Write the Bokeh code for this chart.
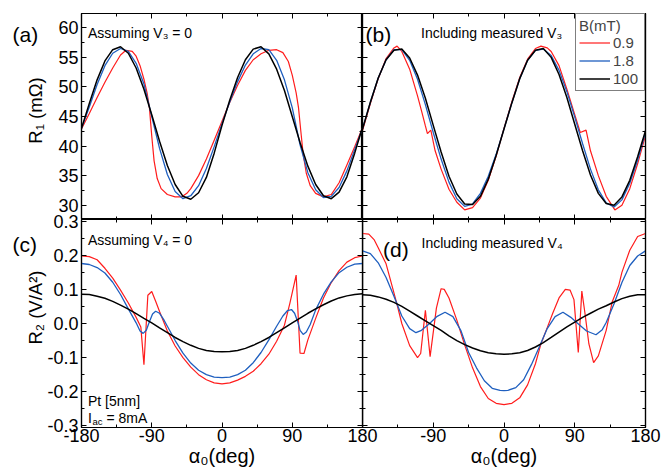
import math
from bokeh.plotting import figure
from bokeh.models import (LinearAxis, FixedTicker, PrintfTickFormatter, Label,
                          Legend, LegendItem, Range1d)
from bokeh.layouts import row, column
from bokeh.embed import file_html
from bokeh.resources import INLINE

FONT = "Liberation Sans"
RED, BLUE, BLACK = "#ff1c1c", "#1f5fbf", "#000000"

# ---------------- data ----------------
ALPHA = [-180, -170, -160, -150, -140, -130, -120, -110, -100, -90, -80, -70, -60,
         -50, -40, -30, -20, -10, 0, 10, 20, 30, 40, 50, 60, 70, 80, 90, 100, 110,
         120, 130, 140, 150, 160, 170, 180]

# (a) R1, assuming V3 = 0
a_black = [43.0, 47.2, 51.2, 54.4, 56.3, 56.8, 55.7, 53.2, 49.6, 45.3, 40.8, 36.7, 33.5,
           31.5, 31.0, 32.1, 34.7, 38.8, 43.5, 47.8, 51.6, 54.6, 56.4, 56.8, 55.6, 53.0,
           49.4, 45.0, 40.6, 36.6, 33.5, 31.6, 31.1, 32.2, 34.8, 38.8, 43.2]
a_blue = [43.0, 46.6, 50.4, 53.6, 55.7, 56.5, 56.0, 54.0, 50.5, 45.0, 39.6, 35.2, 32.3,
          31.1, 31.6, 33.3, 36.2, 39.9, 43.8, 47.5, 50.9, 53.7, 55.6, 56.5, 56.3, 54.5,
          51.2, 46.5, 40.2, 35.5, 32.6, 31.3, 31.5, 33.0, 35.8, 39.4, 43.0]
a_red_x = [-180, -170, -160, -150, -140, -130, -123, -115, -110, -105, -100, -96, -93,
           -90, -87, -83, -78, -70, -60, -52, -45, -40, -30, -20, -10, 0, 10, 20, 30, 40,
           50, 60, 70, 78, 85, 90, 95, 98, 101, 104, 108, 113, 120, 130, 140, 150, 160,
           170, 180]
a_red = [42.9, 45.5, 48.2, 50.8, 53.2, 55.4, 56.2, 56.0, 55.2, 53.6, 51.3, 49.0, 46.5,
         41.7, 37.5, 34.5, 32.8, 31.8, 31.4, 31.4, 32.0, 32.8, 35.0, 37.8, 41.0, 44.2,
         47.4, 50.3, 52.8, 54.6, 55.6, 56.2, 56.3, 55.8, 54.3, 52.0, 49.0, 46.5, 42.5,
         38.6, 35.4, 33.3, 32.0, 31.4, 31.8, 33.8, 36.8, 39.9, 43.1]

# (b) R1, including measured V3
b_black = [42.9, 47.4, 51.5, 54.6, 56.2, 56.4, 54.9, 52.0, 48.1, 43.5, 39.0, 34.9, 31.9,
           30.2, 30.1, 31.5, 34.4, 38.4, 42.9, 47.3, 51.4, 54.5, 56.2, 56.5, 55.0, 52.1,
           48.2, 43.7, 39.2, 35.1, 32.0, 30.3, 30.0, 31.4, 34.2, 38.2, 42.6]
b_blue = [42.9, 47.4, 51.5, 54.6, 56.3, 56.3, 54.5, 51.3, 47.0, 42.3, 37.8, 33.9, 31.1,
          29.8, 30.2, 32.0, 34.9, 38.6, 42.9, 47.3, 51.4, 54.5, 56.2, 56.4, 55.3, 52.8,
          49.2, 44.9, 40.4, 36.1, 32.6, 30.4, 29.7, 30.9, 33.7, 37.6, 42.3]
b_red_x = [-180, -170, -160, -150, -140, -136, -130, -120, -110, -105, -100, -97.4, -93.1,
           -87.6, -80, -70, -60, -50, -40, -30, -20, -10, 0, 10, 20, 30, 40, 47, 55, 60,
           70, 80, 90, 97, 104.4, 110, 120, 130, 141, 150, 160, 170, 180]
b_red = [42.6, 47.2, 51.4, 54.8, 56.6, 56.9, 56.0, 53.0, 48.5, 46.0, 43.4, 42.1, 42.7,
         39.2, 36.1, 32.7, 30.5, 29.2, 29.6, 31.2, 34.2, 38.3, 43.0, 47.5, 51.6, 54.7,
         56.5, 56.9, 56.6, 56.0, 53.6, 49.6, 45.3, 42.3, 42.7, 39.2, 35.0, 31.5, 29.2,
         30.0, 32.8, 37.0, 41.8]

# (c) R2, assuming V4 = 0
c_black = [0.086, 0.085, 0.080, 0.074, 0.065, 0.054, 0.042, 0.029, 0.015, 0.002, -0.013,
           -0.027, -0.041, -0.053, -0.064, -0.073, -0.079, -0.082, -0.083, -0.082, -0.079,
           -0.073, -0.064, -0.053, -0.041, -0.027, -0.013, 0.002, 0.016, 0.030, 0.043,
           0.055, 0.066, 0.075, 0.081, 0.085, 0.087]
c_blue_x = [-180, -170, -160, -150, -140, -130, -120, -110, -105, -101, -97, -93, -89, -85,
            -80, -75, -70, -60, -50, -40, -30, -20, -10, 0, 10, 20, 30, 40, 50, 60, 70, 78,
            84, 89, 93, 97, 100, 104, 108, 113, 120, 130, 140, 150, 160, 170, 180]
c_blue = [0.176, 0.173, 0.164, 0.148, 0.121, 0.085, 0.043, 0.002, -0.022, -0.029, -0.020,
          0.005, 0.028, 0.036, 0.030, 0.013, -0.008, -0.050, -0.087, -0.116, -0.137, -0.150,
          -0.157, -0.159, -0.157, -0.150, -0.137, -0.115, -0.085, -0.048, -0.008, 0.022,
          0.038, 0.041, 0.030, 0.005, -0.020, -0.032, -0.025, -0.003, 0.040, 0.086, 0.122,
          0.149, 0.165, 0.174, 0.176]
c_red_x = [-180, -170, -160, -150, -140, -130, -120, -110, -104, -100, -95, -90, -85, -80,
           -70, -60, -50, -40, -30, -20, -10, 0, 10, 20, 30, 40, 50, 60, 70, 80, 87, 95, 100,
           105, 110, 120, 130, 140, 150, 160, 170, 180]
c_red = [0.198, 0.196, 0.187, 0.162, 0.133, 0.098, 0.060, 0.018, -0.010, -0.121, 0.083,
         0.094, 0.065, 0.035, -0.022, -0.066, -0.100, -0.128, -0.150, -0.165, -0.174, -0.177,
         -0.174, -0.166, -0.155, -0.140, -0.118, -0.090, -0.052, -0.005, 0.060, 0.142,
         -0.087, -0.088, -0.048, 0.015, 0.075, 0.120, 0.155, 0.180, 0.193, 0.198]

# (d) R2, including measured V4
d_black = [0.084, 0.083, 0.078, 0.071, 0.062, 0.050, 0.036, 0.022, 0.008, -0.006, -0.020,
           -0.036, -0.050, -0.062, -0.072, -0.080, -0.086, -0.089, -0.090, -0.089, -0.086,
           -0.079, -0.069, -0.056, -0.041, -0.025, -0.010, 0.004, 0.018, 0.030, 0.042,
           0.052, 0.063, 0.073, 0.080, 0.084, 0.084]
d_blue_x = [-180, -170, -160, -150, -140, -130, -120, -112, -105, -95, -85, -75, -65, -55,
            -45, -35, -25, -15, -5, 0, 5, 15, 25, 35, 45, 55, 65, 75, 85, 95, 105, 117, 125,
            130, 140, 150, 160, 170, 180]
d_blue = [0.213, 0.205, 0.178, 0.135, 0.080, 0.022, -0.015, -0.027, -0.020, -0.001, 0.021,
          0.033, 0.020, -0.020, -0.085, -0.130, -0.168, -0.190, -0.196, -0.197, -0.196,
          -0.188, -0.165, -0.120, -0.068, -0.015, 0.020, 0.033, 0.018, -0.002, -0.022,
          -0.033, -0.018, 0.003, 0.058, 0.120, 0.170, 0.198, 0.213]
d_red_x = [-180, -172, -165, -160, -150, -140, -137, -130, -120, -110, -106, -100, -94, -86,
           -80, -76, -70, -60, -51, -40, -30, -20, -10, 0, 10, 20, 30, 40, 47, 55, 62, 70,
           78, 84, 89, 94.5, 99, 103, 108, 114, 120, 130, 137.6, 146, 150, 160, 170, 180]
d_red = [0.264, 0.262, 0.245, 0.222, 0.175, 0.090, 0.064, 0.000, -0.065, -0.100, -0.088,
         0.039, -0.097, 0.045, 0.102, 0.100, 0.075, 0.010, -0.056, -0.130, -0.185, -0.220,
         -0.234, -0.238, -0.234, -0.218, -0.180, -0.118, -0.060, -0.012, 0.030, 0.075,
         0.100, 0.098, 0.070, -0.085, 0.095, 0.030, -0.060, -0.115, -0.095, -0.020, 0.063,
         0.112, 0.150, 0.215, 0.255, 0.264]

FIELDS = ["0.9", "1.8", "100"]  # B (mT)

X_TICKS = [-180, -90, 0, 90, 180]
X_TICKS_D = [-90, 0, 90, 180]
X_MINOR = [-135, -45, 45, 135]
R1_RANGE = (27.58, 62.42)
R1_TICKS = [30, 35, 40, 45, 50, 55, 60]
R1_MINOR = [32.5, 37.5, 42.5, 47.5, 52.5, 57.5]
R2_RANGE = (-0.305, 0.305)
R2_TICKS = [-0.3, -0.2, -0.1, 0.0, 0.1, 0.2, 0.3]
R2_MINOR = [-0.25, -0.15, -0.05, 0.05, 0.15, 0.25]

# ---------------- helpers ----------------

def make_fig(yr, fw, fh, left, right, top, bottom):
    p = figure(frame_width=fw, frame_height=fh,
               x_range=Range1d(-180, 180), y_range=Range1d(*yr),
               x_axis_location=None, y_axis_location=None,
               min_border_left=left, min_border_right=right,
               min_border_top=top, min_border_bottom=bottom,
               output_backend="svg", toolbar_location=None,
               border_fill_color=None, background_fill_color=None,
               outline_line_color="black", outline_line_width=1.2)
    p.grid.visible = False
    return p


def add_axis(p, side, ticks, minor, fmt=None, labels=False, standoff=3, title=None):
    ax = LinearAxis(ticker=FixedTicker(ticks=ticks, minor_ticks=minor))
    if fmt:
        ax.formatter = PrintfTickFormatter(format=fmt)
    ax.major_tick_in = 5
    ax.major_tick_out = 0
    ax.minor_tick_in = 3
    ax.minor_tick_out = 0
    ax.axis_line_color = "black"
    ax.axis_line_width = 1.2
    ax.major_tick_line_color = "black"
    ax.minor_tick_line_color = "black"
    ax.major_tick_line_width = 1
    ax.minor_tick_line_width = 1
    if labels:
        ax.major_label_text_font = FONT
        ax.major_label_text_font_size = "18px"
        ax.major_label_text_color = "black"
        ax.major_label_standoff = standoff
    else:
        ax.major_label_text_font_size = "0px"
        ax.major_label_text_color = None
        ax.major_label_text_alpha = 0
        ax.major_label_standoff = 0
    if title:
        ax.axis_label = title
        ax.axis_label_text_font = FONT
        ax.axis_label_text_font_size = "20px"
        ax.axis_label_text_font_style = "normal"
        ax.axis_label_text_color = "black"
        ax.axis_label_standoff = 0
    p.add_layout(ax, side)
    return ax


def px2x(px, L, W):
    return -180 + (px - L) / W * 360.0


def py2y(py, top, bottom, yr):
    return yr[0] + (bottom - py) / (bottom - top) * (yr[1] - yr[0])


def add_text(p, x, y, text, size, align="left", baseline="alphabetic", angle=0.0):
    p.add_layout(Label(x=x, y=y, text=text, text_font=FONT, text_font_size=size,
                       text_align=align, text_baseline=baseline, angle=angle,
                       text_color="black"))

# page geometry of the frames (pixels)
STRIP = 81            # left strip (panel letters + y titles), overlapped by the panels' borders
LBORDER = 39          # visible left border of the left panels (tick labels)
LX, LW = 81, 281      # left column frame
RX, RW = 362, 283     # right column frame
TT, TB = 13, 219      # top row frame
BT, BB = 219, 427     # bottom row frame

# ---------------- left strip with panel letters and y titles ----------------
strip = figure(width=STRIP, height=472, x_range=Range1d(0, STRIP), y_range=Range1d(472, 0),
               x_axis_location=None, y_axis_location=None, min_border=0,
               output_backend="svg", toolbar_location=None, outline_line_color=None,
               border_fill_color=None, background_fill_color=None)
strip.grid.visible = False
add_text(strip, 12, 34, "(a)", "21px")
add_text(strip, 12, 244, "(c)", "21px")
add_text(strip, 35, 110, "R\u2081 (m\u03a9)", "18.5px", align="center", angle=math.pi / 2)
add_text(strip, 35, 307, "R\u2082 (V/A\u00b2)", "18.5px", align="center", angle=math.pi / 2)

# ---------------- panel (a) ----------------
pa = make_fig(R1_RANGE, LW, TB - TT, LBORDER, 0, TT, 0)
add_axis(pa, "below", X_TICKS, X_MINOR)
add_axis(pa, "above", X_TICKS, X_MINOR)
add_axis(pa, "left", R1_TICKS, R1_MINOR, fmt="%d", labels=True)
add_axis(pa, "right", R1_TICKS, R1_MINOR)
pa.line(a_red_x, a_red, color=RED, line_width=1.2)
pa.line(ALPHA, a_blue, color=BLUE, line_width=1.3)
pa.line(ALPHA, a_black, color=BLACK, line_width=1.5)
ay = lambda py: py2y(py, TT, TB, R1_RANGE)
ax_ = lambda px: px2x(px, LX, LW)
add_text(pa, ax_(87.5), ay(32.5), "Assuming V\u2083 = 0", "14px")
pa.margin = (0, 0, 0, LX - LBORDER - STRIP)

# ---------------- panel (b) ----------------
pb = make_fig(R1_RANGE, RW, TB - TT, 0, 16, TT, 0)
add_axis(pb, "below", X_TICKS, X_MINOR)
add_axis(pb, "above", X_TICKS, X_MINOR)
add_axis(pb, "left", R1_TICKS, R1_MINOR)
add_axis(pb, "right", R1_TICKS, R1_MINOR)
rb_red = pb.line(b_red_x, b_red, color=RED, line_width=1.2)
rb_blue = pb.line(ALPHA, b_blue, color=BLUE, line_width=1.3)
rb_black = pb.line(ALPHA, b_black, color=BLACK, line_width=1.5)
by = lambda py: py2y(py, TT, TB, R1_RANGE)
bx = lambda px: px2x(px, RX, RW)
add_text(pb, bx(365), by(34), "(b)", "21px")
add_text(pb, bx(420.5), by(32), "Including measured V\u2083", "14px")
legend = Legend(items=[LegendItem(label=FIELDS[0], renderers=[rb_red]),
                       LegendItem(label=FIELDS[1], renderers=[rb_blue]),
                       LegendItem(label=FIELDS[2], renderers=[rb_black])],
                location="top_right", margin=0, padding=3, spacing=1,
                title="B(mT)", title_text_font=FONT, title_text_font_size="15px",
                title_text_font_style="normal", title_standoff=0,
                label_text_font=FONT, label_text_font_size="15px",
                label_height=15, label_width=28, glyph_height=15, glyph_width=31,
                label_standoff=3, border_line_color="black", border_line_width=1,
                background_fill_color="white", background_fill_alpha=1.0)
pb.add_layout(legend)

# ---------------- panel (c) ----------------
pc = make_fig(R2_RANGE, LW, BB - BT, LBORDER, 20, 12, 45)
add_axis(pc, "below", X_TICKS, X_MINOR, fmt="%d", labels=True, standoff=1,
         title="\u03b1\u2080(deg)")
add_axis(pc, "above", X_TICKS, X_MINOR)
add_axis(pc, "left", R2_TICKS, R2_MINOR, fmt="%.1f", labels=True)
add_axis(pc, "right", R2_TICKS, R2_MINOR)
pc.line(c_red_x, c_red, color=RED, line_width=1.2)
pc.line(c_blue_x, c_blue, color=BLUE, line_width=1.3)
pc.line(ALPHA, c_black, color=BLACK, line_width=1.5)
cy = lambda py: py2y(py, BT, BB, R2_RANGE)
cx = lambda px: px2x(px, LX, LW)
add_text(pc, cx(87.5), cy(239), "Assuming V\u2084 = 0", "14px")
add_text(pc, cx(87.5), cy(400), "Pt [5nm]", "14px")
add_text(pc, cx(87.5), cy(417.5), "I", "14px")
add_text(pc, cx(92), cy(420.5), "ac", "9.5px")
add_text(pc, cx(106), cy(417.5), " = 8mA", "14px")
pc.margin = (-12, 0, 0, LX - LBORDER - STRIP)

# ---------------- panel (d) ----------------
pd = make_fig(R2_RANGE, RW, BB - BT, 0, 16, 12, 45)
add_axis(pd, "below", X_TICKS_D, X_MINOR, fmt="%d", labels=True, standoff=1,
         title="\u03b1\u2080(deg)")
add_axis(pd, "above", X_TICKS, X_MINOR)
add_axis(pd, "left", R2_TICKS, R2_MINOR)
add_axis(pd, "right", R2_TICKS, R2_MINOR)
pd.line(d_red_x, d_red, color=RED, line_width=1.2)
pd.line(d_blue_x, d_blue, color=BLUE, line_width=1.3)
pd.line(ALPHA, d_black, color=BLACK, line_width=1.5)
dy = lambda py: py2y(py, BT, BB, R2_RANGE)
dx = lambda px: px2x(px, RX, RW)
add_text(pd, dx(382.5), dy(248.5), "(d)", "21px")
add_text(pd, dx(421), dy(242.5), "Including measured V\u2084", "14px")
pd.margin = (-12, 0, 0, -20)

layout = row(strip, column(row(pa, pb), row(pc, pd)))
open("out.html", "w").write(file_html(layout, INLINE))
